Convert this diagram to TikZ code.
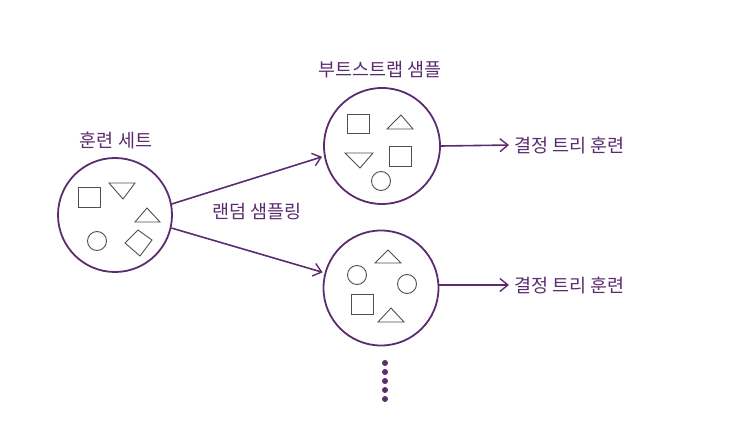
\documentclass[tikz,border=0pt]{standalone}
\usepackage{fontspec}
\newfontfamily\kr{Noto Sans CJK KR}
\usetikzlibrary{arrows.meta}
\definecolor{pur}{HTML}{5B2C6F}
\definecolor{shp}{HTML}{505050}
\tikzset{
  setc/.style={circle,draw=pur,line width=1.8pt,minimum size=#1,inner sep=0pt},
  lbl/.style={text=pur,font=\kr\fontsize{18.5}{20}\selectfont,inner sep=0pt},
  conn/.style={draw=pur,line width=1.6pt,-{Straight Barb[length=8pt,width=13pt,line width=1.4pt]}},
  fig/.style={draw=shp,line width=0.9pt},
  dotn/.style={circle,fill=pur,minimum size=6pt,inner sep=0pt}
}
\begin{document}
\begin{tikzpicture}[x=1pt,y=-1pt]
\useasboundingbox (0,0) rectangle (730,438);
% circles
\node[setc=114pt] (train) at (115,215) {};
\node[setc=116pt] (boot1) at (382,146) {};
\node[setc=115pt] (boot2) at (381,288) {};
% labels
\node[lbl] (ltrain) at (116,140) {훈련 세트};
\node[lbl] (lboot) at (380,70) {부트스트랩 샘플};
\node[lbl] (lrand) at (257,212) {랜덤 샘플링};
\node[lbl,anchor=west] (dt1) at (514,145) {결정 트리 훈련};
\node[lbl,anchor=west] (dt2) at (514,285) {결정 트리 훈련};
% connectors
\draw[conn,shorten >=2pt] (train.11) -- (boot1.190);
\draw[conn,shorten >=2pt] (train.-13) -- (boot2.165);
\draw[conn,shorten >=5pt] (boot1.east) -- (dt1.west);
\draw[conn,shorten >=5pt] (boot2.east |- dt2.west) -- (dt2.west);
% dots
\foreach \i in {0,...,4} \node[dotn] (d\i) at (385,363+9*\i) {};
% shapes in training set
\draw[fig] (78,187) rectangle (100,207);
\draw[fig] (109,183) -- (135,183) -- (123,199) -- cycle;
\draw[fig] (135,222) -- (160,222) -- (147,208) -- cycle;
\draw[fig] (97,241) circle (9.5);
\draw[fig] (125,243) -- (138,230) -- (152,240) -- (140,256) -- cycle;
% shapes in bootstrap 1
\draw[fig] (347,114) rectangle (369,133);
\draw[fig] (387,129) -- (413,129) -- (401,115) -- cycle;
\draw[fig] (345,153) -- (373,153) -- (360,168) -- cycle;
\draw[fig] (389,146) rectangle (411,166);
\draw[fig] (381,181) circle (9.5);
% shapes in bootstrap 2
\draw[fig] (375,263) -- (401,263) -- (388,250) -- cycle;
\draw[fig] (357,275) circle (9.5);
\draw[fig] (407,284) circle (9.5);
\draw[fig] (351,294) rectangle (373,314);
\draw[fig] (378,322) -- (404,322) -- (391,308) -- cycle;
\end{tikzpicture}
\end{document}
